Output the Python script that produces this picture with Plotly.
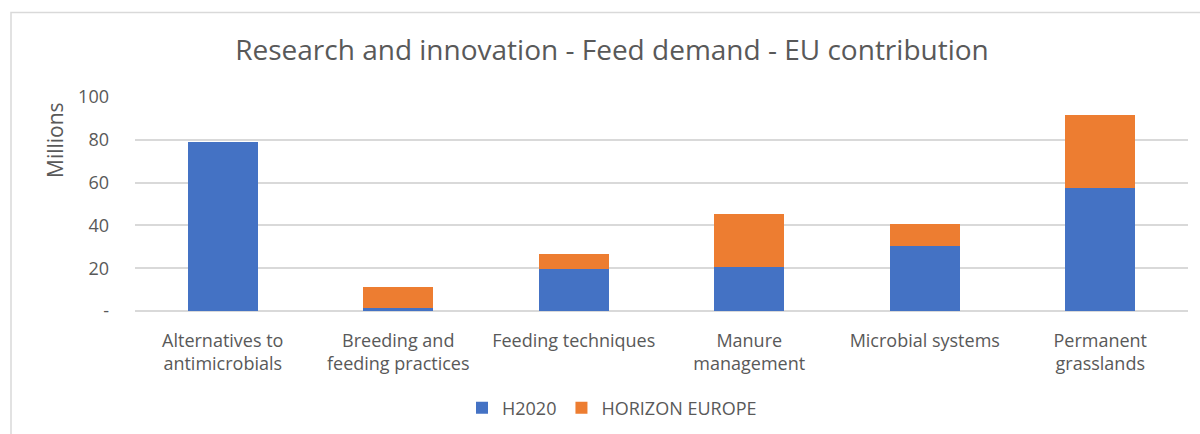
import plotly.graph_objects as go

categories = ["Alternatives to<br>antimicrobials", "Breeding and<br>feeding practices",
              "Feeding techniques", "Manure<br>management", "Microbial systems",
              "Permanent<br>grasslands"]
h2020 = [79.0, 1.4, 19.7, 20.5, 30.6, 57.6]
horizon_europe = [0.0, 9.7, 6.9, 25.0, 10.2, 34.0]
y_tickvals = [0, 20, 40, 60, 80, 100]
y_ticktext = ["-", "20", "40", "60", "80", "100"]

FONT = "Open Sans, Liberation Sans, sans-serif"
GREY = "#595959"

fig = go.Figure()
fig.add_trace(go.Bar(x=categories, y=h2020, name="H2020", marker_color="#4472C4",
                     marker_line_width=0))
fig.add_trace(go.Bar(x=categories, y=horizon_europe, name="HORIZON EUROPE",
                     marker_color="#ED7D31", marker_line_width=0))

fig.update_layout(
    width=1200, height=434,
    barmode="stack", bargap=0.6,
    paper_bgcolor="white", plot_bgcolor="white",
    margin=dict(l=135, r=12, t=97, b=123, autoexpand=False),
    title=dict(text="Research and innovation - Feed demand - EU contribution",
               x=0.51, xanchor="center", y=0.885, yanchor="middle",
               font=dict(family=FONT, size=28, color=GREY)),
    font=dict(family=FONT, size=18, color=GREY),
    showlegend=True,
    legend=dict(orientation="h", x=(612 - 135) / 1053, xanchor="center",
                y=-(408 - 311) / 214, yanchor="middle",
                font=dict(family=FONT, size=18, color=GREY), traceorder="normal",
                itemwidth=30),
    xaxis=dict(showgrid=False, showline=False, ticks="", automargin=False,
               ticklabelstandoff=17,
               tickfont=dict(family=FONT, size=18, color=GREY)),
    yaxis=dict(range=[0, 100], tickvals=y_tickvals, ticktext=y_ticktext,
               automargin=False,
               showgrid=True, gridcolor="#D9D9D9", gridwidth=1.5, zeroline=True,
               zerolinecolor="#D9D9D9", zerolinewidth=1.5, ticks="",
               ticklabelstandoff=25,
               tickfont=dict(family=FONT, size=18, color=GREY)),
    annotations=[dict(text="Millions", textangle=-90, showarrow=False,
                      xref="paper", yref="paper",
                      x=(55 - 135) / 1053, y=(311 - 140) / 214,
                      xanchor="center", yanchor="middle",
                      font=dict(family=FONT, size=21, color=GREY))],
    shapes=[dict(type="rect", xref="paper", yref="paper",
                 x0=(11 - 135) / 1053, x1=(1215 - 135) / 1053,
                 y0=(311 - 450) / 214, y1=(311 - 12.5) / 214,
                 line=dict(color="#D9D9D9", width=1.5), fillcolor="rgba(0,0,0,0)",
                 layer="below")],
)

fig.write_html("out.html", config={"displayModeBar": False},
               post_script="document.body.style.margin='0';document.body.style.overflow='hidden';")
